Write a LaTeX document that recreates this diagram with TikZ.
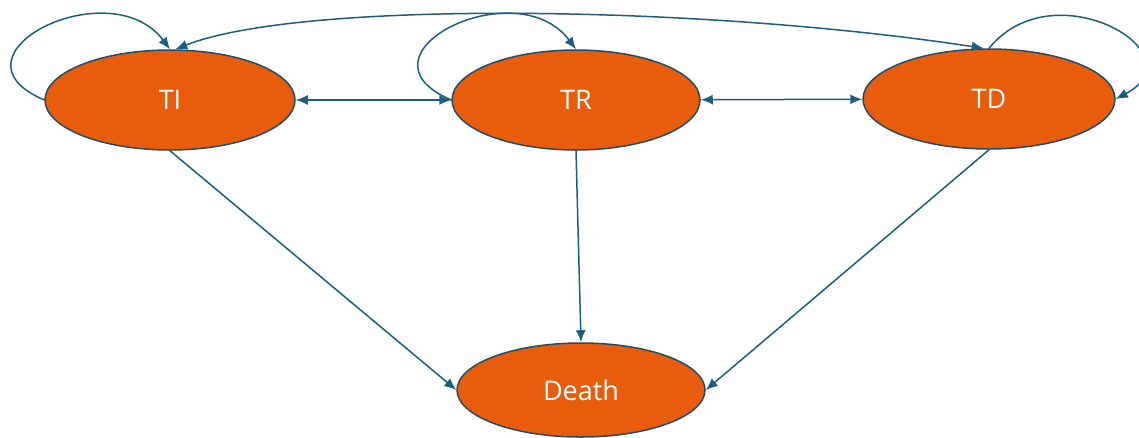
\documentclass[tikz,border=0pt]{standalone}
\usepackage{fontspec}
\setmainfont{Open Sans}
\usetikzlibrary{shapes.geometric,arrows.meta}
\definecolor{stateorange}{HTML}{E85C0C}
\definecolor{stateedge}{HTML}{1F4E66}
\definecolor{arrowblue}{HTML}{1B5E7F}
\begin{document}
\begin{tikzpicture}[x=1pt,y=-1pt,line cap=round,
  state/.style={ellipse,draw=stateedge,line width=1.5pt,fill=stateorange,text=white,minimum width=250pt,minimum height=100pt,inner sep=0pt,font=\fontsize{27}{32}\selectfont},
  trans/.style={draw=arrowblue,line width=1.5pt,-{Latex[length=12pt,width=10pt]}},
  both/.style={trans,{Latex[length=12pt,width=10pt]}-{Latex[length=12pt,width=10pt]}}]
  \useasboundingbox (0,0) rectangle (1139,437);
  \node[state] (TI) at (170,100) {TI}; \node[state,minimum width=248pt] (TR) at (576,100) {TR}; \node[state,minimum width=252pt] (TD) at (989,99) {TD};
  \node[state,minimum width=248pt,minimum height=94pt] (Death) at (581,390) {Death};
  \draw[both] (TI) -- (TR); \draw[both] (TR) -- (TD);
  \draw[trans] (TI.west) .. controls +(-105,-45) and +(-60,-80) .. (TI.north);
  \draw[trans] (TR.west) .. controls +(-105,-45) and +(-60,-80) .. (TR.north);
  \draw[trans] (TD.north) .. controls +(65,-80) and +(85,-45) .. (TD.east);
  \draw[both] (TI.84) .. controls (300,0) and (700,5) .. (TD.96);
  \draw[trans] (TI.south) -- (Death.west); \draw[trans] (TR.south) -- (Death.north); \draw[trans] (TD.south) -- (Death.east);
\end{tikzpicture}
\end{document}
